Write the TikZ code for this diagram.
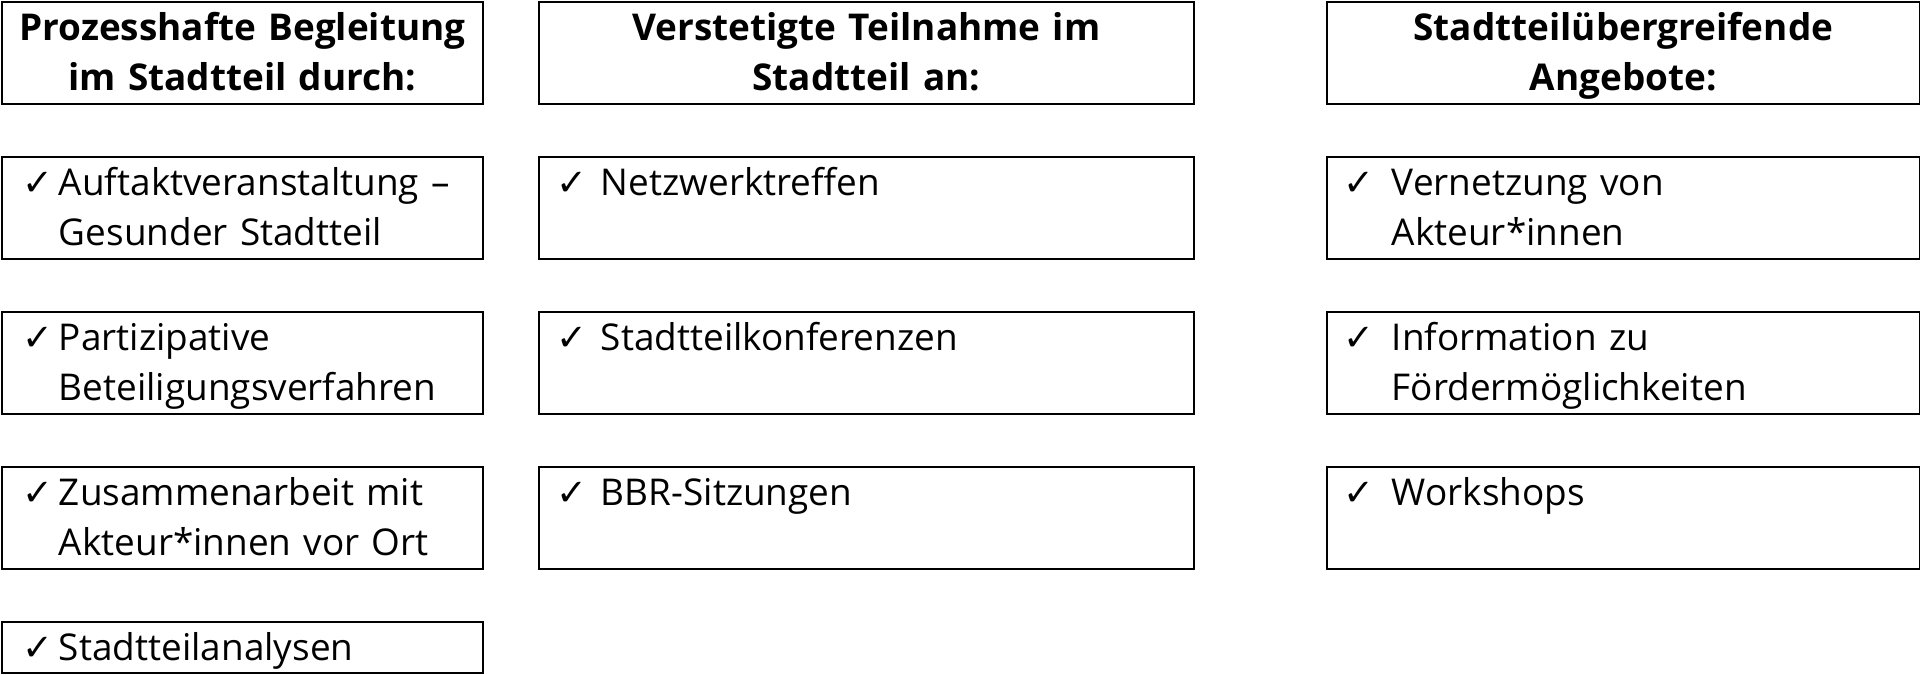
\documentclass[tikz,border=0pt]{standalone}
\usepackage{fontspec}
\setmainfont{Open Sans}
\newfontfamily\symfont{DejaVu Sans}
\usetikzlibrary{positioning}

\begin{document}
\begin{tikzpicture}[
    node distance=1.02cm and 1.08cm,
    box/.style={rectangle, draw, line width=1.1pt, inner ysep=0pt, font={\fontsize{21}{28.45}\selectfont}, text height=0.78cm, text depth=1.26cm},
    head/.style={box, font={\fontsize{21}{28.45}\selectfont\bfseries}, inner xsep=0pt, align=center, text width=#1},
    litem/.style={box, align=left, inner xsep=0.42cm, text width=8.78cm, execute at begin node={\leftskip=0.72cm\noindent\llap{\makebox[0.72cm][l]{\symfont\bfseries ✓}}}},
    mitem/.style={box, align=left, inner xsep=0.36cm, text width=12.38cm, execute at begin node={\leftskip=0.88cm\noindent\llap{\makebox[0.88cm][l]{\symfont\bfseries ✓}}}},
    ritem/.style={box, align=left, inner xsep=0.34cm, text width=11.18cm, execute at begin node={\leftskip=0.96cm\noindent\llap{\makebox[0.96cm][l]{\symfont\bfseries ✓}}}}
]
\useasboundingbox (0,0) rectangle (38.4,-13.48);

% Left column - Begleitung
\node[head=9.62cm, anchor=north west] (l1) at (0.02,-0.02) {Prozesshafte Begleitung\\im Stadtteil durch:};
\node[litem, below=of l1] (l2) {Auftaktveranstaltung –\\Gesunder Stadtteil};
\node[litem, below=of l2] (l3) {Partizipative\\Beteiligungsverfahren};
\node[litem, below=of l3] (l4) {Zusammenarbeit mit\\Akteur*innen vor Ort};
\node[litem, text depth=0.24cm, below=of l4] (l5) {Stadtteilanalysen};

% Middle column - Teilnahme
\node[head=13.1cm, right=of l1] (m1) {Verstetigte Teilnahme im\\Stadtteil an:};
\node[mitem, below=of m1] (m2) {Netzwerktreffen};
\node[mitem, below=of m2] (m3) {Stadtteilkonferenzen};
\node[mitem, below=of m3] (m4) {BBR-Sitzungen};

% Right column - Angebote
\node[head=11.86cm, right=2.62cm of m1] (r1) {Stadtteilübergreifende\\Angebote:};
\node[ritem, below=of r1] (r2) {Vernetzung von\\Akteur*innen};
\node[ritem, below=of r2] (r3) {Information zu\\Fördermöglichkeiten};
\node[ritem, below=of r3] (r4) {Workshops};

\end{tikzpicture}
\end{document}
